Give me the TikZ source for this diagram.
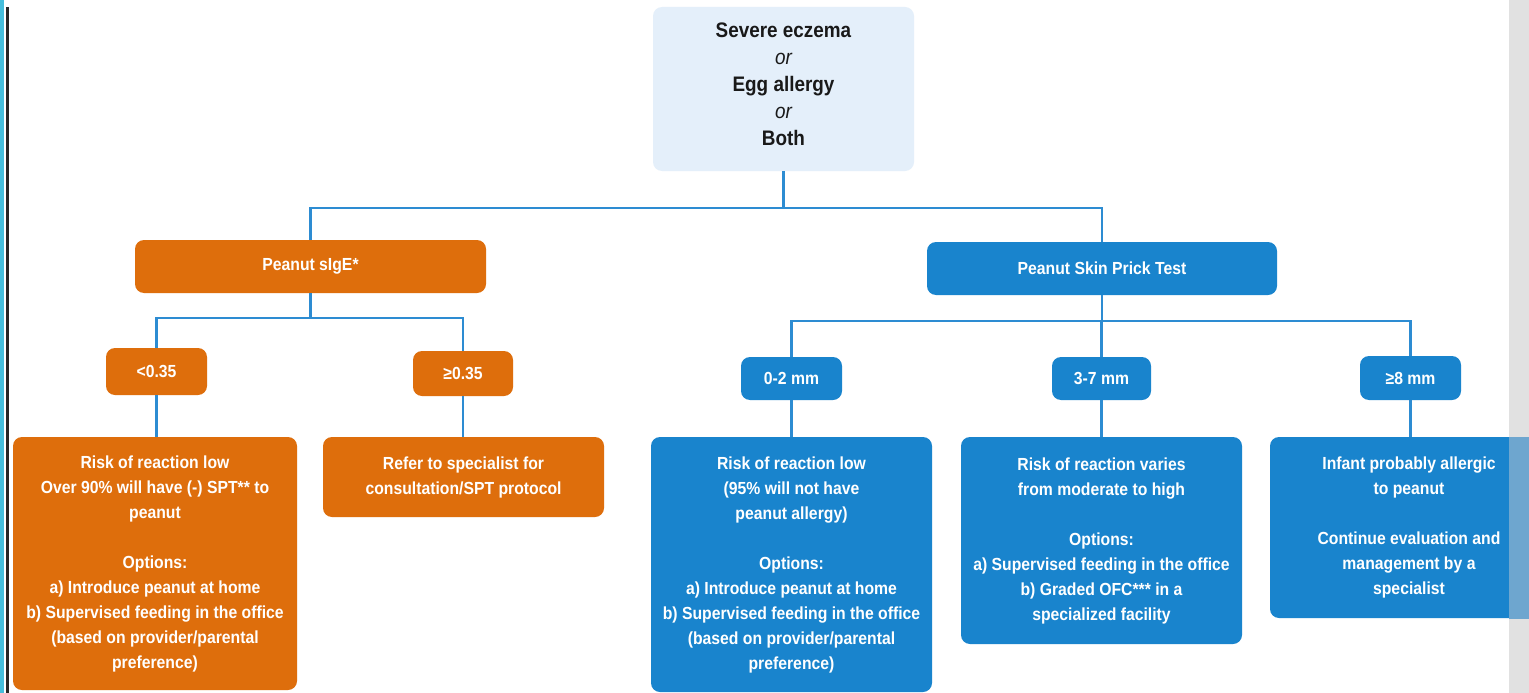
\documentclass[tikz,border=0pt]{standalone}
\usepackage{fontspec}
\setmainfont{Liberation Sans}[FakeStretch=0.9]
\usepackage{tikz}
\definecolor{orng}{RGB}{222,110,12}
\definecolor{blu}{RGB}{25,132,205}
\definecolor{lnk}{RGB}{45,140,210}
\definecolor{topfill}{RGB}{228,239,250}
\definecolor{edgecyan}{RGB}{70,190,220}
\definecolor{stripgray}{RGB}{225,225,225}
\definecolor{fadeblu}{RGB}{110,166,207}

\begin{document}
\begin{tikzpicture}[x=1pt,y=-1pt,
  obox/.style={fill=orng,rounded corners=9pt,text=white,inner sep=0pt,align=center,
    font=\bfseries\fontsize{17.5}{25}\selectfont},
  bbox/.style={obox,fill=blu},
  link/.style={draw=lnk,line width=2.4pt}]
\clip (0,0) rectangle (1529,693);
\fill[white] (0,0) rectangle (1529,693);
\fill[edgecyan] (0,0) rectangle (4,693);
\fill[black!85] (6,7) rectangle (9,693);
\fill[stripgray] (1509,0) rectangle (1529,693);
\node[fill=topfill,rounded corners=9pt,text=black!90,inner sep=0pt,align=center,minimum width=261,minimum height=164,
  text depth=10pt,font=\bfseries\fontsize{21}{27}\selectfont] (top) at (783.5,89)
  {Severe eczema\\{\mdseries\itshape or}\\Egg allergy\\{\mdseries\itshape or}\\Both};
\node[obox,minimum width=351,minimum height=53] (sige) at (310.5,266.5) {Peanut sIgE*};
\node[bbox,minimum width=350,minimum height=53] (spt) at (1102,268.5) {Peanut Skin Prick Test};
\node[obox,minimum width=101,minimum height=47] (lo) at (156.5,371.5) {<0.35};
\node[obox,minimum width=100,minimum height=45] (hi) at (463,373.5) {≥0.35};
\node[bbox,minimum width=101,minimum height=43] (s02) at (791.5,378.5) {0-2 mm};
\node[bbox,minimum width=99,minimum height=43] (s37) at (1101.5,378.5) {3-7 mm};
\node[bbox,minimum width=101,minimum height=44] (s8) at (1410.5,378) {≥8 mm};
\node[obox,minimum width=284,minimum height=253] (rlow) at (155,563.5)
  {Risk of reaction low\\Over 90\% will have (-) SPT** to\\peanut\\[25pt]Options:\\a) Introduce peanut at home\\b) Supervised feeding in the office\\(based on provider/parental\\preference)};
\node[obox,minimum width=281,minimum height=80] (refer) at (463.5,477)
  {Refer to specialist for\\consultation/SPT protocol};
\node[bbox,minimum width=281,minimum height=255] (blow) at (791.5,564.5)
  {Risk of reaction low\\(95\% will not have\\peanut allergy)\\[25pt]Options:\\a) Introduce peanut at home\\b) Supervised feeding in the office\\(based on provider/parental\\preference)};
\node[bbox,minimum width=281,minimum height=207] (bvar) at (1101.5,540.5)
  {Risk of reaction varies\\from moderate to high\\[25pt]Options:\\a) Supervised feeding in the office\\b) Graded OFC*** in a\\specialized facility};
\node[bbox,minimum width=278,minimum height=181] (ball) at (1409,527.5)
  {Infant probably allergic\\to peanut\\[25pt]Continue evaluation and\\management by a\\specialist};
\fill[fadeblu] (1509,436.5) rectangle (1529,618.5);
\draw[link] (top.south) -- ++(0,37) -| (sige.north);
\draw[link] (top.south) -- ++(0,37) -| (spt.north);
\draw[link] (sige.south) -- ++(0,25) -| (lo.north);
\draw[link] (sige.south) -- ++(0,25) -| (hi.north);
\draw[link] (spt.south) -- ++(0,26) -| (s02.north);
\draw[link] (spt.south) -- ++(0,26) -| (s37.north);
\draw[link] (spt.south) -- ++(0,26) -| (s8.north);
\draw[link] (lo.south) -- (lo.south |- rlow.north);
\draw[link] (hi.south) -- (hi.south |- refer.north);
\draw[link] (s02.south) -- (s02.south |- blow.north);
\draw[link] (s37.south) -- (s37.south |- bvar.north);
\draw[link] (s8.south) -- (s8.south |- ball.north);
\end{tikzpicture}
\end{document}
